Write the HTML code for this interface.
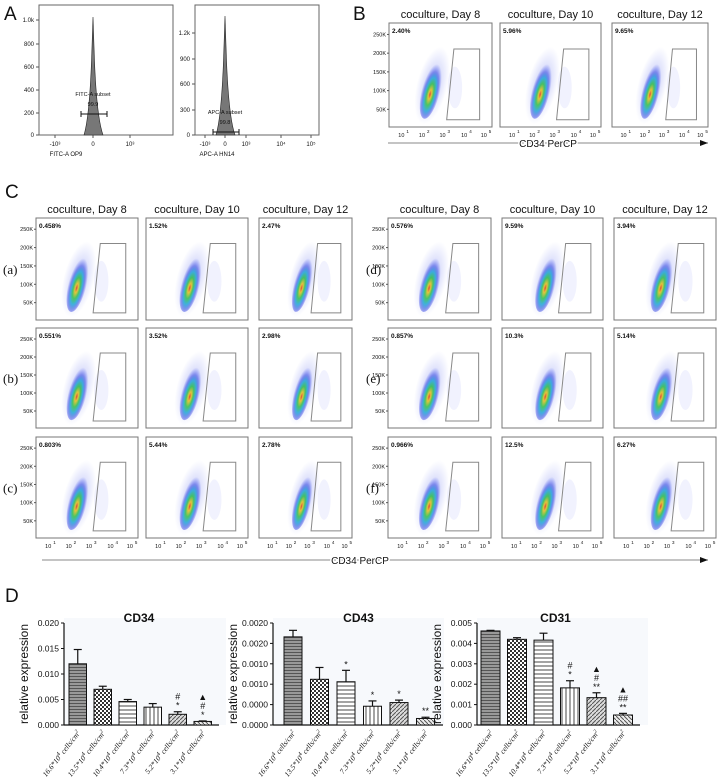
<!DOCTYPE html>
<html><head><meta charset="utf-8"><style>
html,body{margin:0;padding:0;background:#fff}
svg{display:block;font-family:"Liberation Sans",sans-serif}
</style></head><body>
<svg id="root" width="718" height="777" viewBox="0 0 718 777" xmlns="http://www.w3.org/2000/svg">
<defs>
<radialGradient id="blob" cx="50%" cy="60%" r="50%">
<stop offset="0" stop-color="#e0301e"/>
<stop offset="0.15" stop-color="#e8c21a"/>
<stop offset="0.35" stop-color="#2fbf4a"/>
<stop offset="0.55" stop-color="#22a6d8"/>
<stop offset="0.75" stop-color="#2a3ee0" stop-opacity="0.6"/>
<stop offset="1" stop-color="#3a4cf0" stop-opacity="0"/>
</radialGradient>
<radialGradient id="halo" cx="50%" cy="50%" r="50%">
<stop offset="0" stop-color="#3040e0" stop-opacity="0.35"/>
<stop offset="1" stop-color="#5060f0" stop-opacity="0"/>
</radialGradient>
<pattern id="p0" width="3" height="3" patternUnits="userSpaceOnUse"><rect width="3" height="3" fill="#999"/><path d="M0 1.5H3" stroke="#555" stroke-width="1"/></pattern>
<pattern id="p1" width="4" height="4" patternUnits="userSpaceOnUse"><rect width="4" height="4" fill="#fff"/><rect width="2" height="2" fill="#333"/><rect x="2" y="2" width="2" height="2" fill="#333"/></pattern>
<pattern id="p2" width="4" height="4" patternUnits="userSpaceOnUse"><rect width="4" height="4" fill="#fff"/><path d="M0 2H4" stroke="#666" stroke-width="1.2"/></pattern>
<pattern id="p3" width="4" height="4" patternUnits="userSpaceOnUse"><rect width="4" height="4" fill="#fff"/><path d="M2 0V4" stroke="#666" stroke-width="1.2"/></pattern>
<pattern id="p4" width="4" height="4" patternUnits="userSpaceOnUse"><rect width="4" height="4" fill="#ddd"/><path d="M0 4L4 0" stroke="#555" stroke-width="1"/></pattern>
<pattern id="p5" width="4" height="4" patternUnits="userSpaceOnUse"><rect width="4" height="4" fill="#eee"/><path d="M0 0L4 4" stroke="#555" stroke-width="1"/></pattern>
<marker id="arr" markerWidth="8" markerHeight="6" refX="8" refY="3" orient="auto"><path d="M0 0L8 3L0 6Z" fill="#111"/></marker>
</defs>
<g id="content"></g>
</svg>
<script>
// ---- Panel D data ----
const groups = ["16.6*10","13.5*10","10.4*10","7.3*10","5.2*10","3.1*10"];
const cd34Vals = [0.0120,0.0070,0.0046,0.0035,0.0021,0.0007];
const cd34Err  = [0.0148,0.0076,0.0050,0.0042,0.0026,0.0008];
const cd34Ticks = [0,0.005,0.010,0.015,0.020];
const cd34TickLabels = ["0.000","0.005","0.010","0.015","0.020"];
const cd34Ann = [[],[],[],[],["#","*"],["▲","#","*"]];
const cd43Vals = [0.00216,0.00112,0.00106,0.00046,0.00055,0.00016];
const cd43Err  = [0.00232,0.00141,0.00134,0.00059,0.00061,0.00019];
const cd43Ticks = [0,0.0005,0.0010,0.0015,0.0020,0.0025];
const cd43TickLabels = ["0.0000","0.0000","0.0010","0.0010","0.0020","0.0020"];
const cd43Ann = [[],[],["*"],["*"],["*"],["**"]];
const cd31Vals = [0.00461,0.00420,0.00416,0.00182,0.00134,0.00049];
const cd31Err  = [0.00464,0.00428,0.00450,0.00217,0.00158,0.00057];
const cd31Ticks = [0,0.001,0.002,0.003,0.004,0.005];
const cd31TickLabels = ["0.000","0.001","0.002","0.003","0.004","0.005"];
const cd31Ann = [[],[],[],["#","*"],["▲","#","**"],["▲","##","**"]];
// flow percentages
const bPercents = ["2.40%","5.96%","9.65%"];
const cPercents = [["0.458%","1.52%","2.47%"],["0.551%","3.52%","2.98%"],["0.803%","5.44%","2.78%"],
                   ["0.576%","9.59%","3.94%"],["0.857%","10.3%","5.14%"],["0.966%","12.5%","6.27%"]];

const NS="http://www.w3.org/2000/svg";
const root=document.getElementById('content');
function el(tag,attrs,parent,text){const e=document.createElementNS(NS,tag);for(const k in attrs)e.setAttribute(k,attrs[k]);if(text!==undefined)e.textContent=text;(parent||root).appendChild(e);return e;}
function txt(x,y,s,size,extra,parent){const a={x:x,y:y,'font-size':size,fill:'#111'};Object.assign(a,extra||{});return el('text',a,parent,s);}

// panel letters
[["A",4,20],["B",353,20],["C",5,198],["D",5,602]].forEach(p=>{
  const t=txt(p[1],p[2],p[0],19,{});
  
  
});

// ---- Panel A histograms ----
function hist(x0,x1,yTop,yBot,spikeX,spikeTop,ticks,xlabels,xlabel,gateLabel,gateVal,gateY,name){
  const g=el('g',{});
  
  
  el('rect',{x:x0,y:yTop,width:x1-x0,height:yBot-yTop,fill:'#fff',stroke:'#666','stroke-width':1},g);
  ticks.forEach(t=>{el('line',{x1:x0-3,x2:x0,y1:t[1],y2:t[1],stroke:'#555'},g);txt(x0-5,t[1]+2,t[0],6,{'text-anchor':'end'},g);});
  xlabels.forEach(t=>{el('line',{x1:t[1],x2:t[1],y1:yBot,y2:yBot+3,stroke:'#555'},g);txt(t[1],yBot+11,t[0],6,{'text-anchor':'middle'},g);});
  el('path',{d:`M${spikeX-9} ${yBot} Q${spikeX-3} ${yBot-20} ${spikeX-1} ${spikeTop+30} L${spikeX} ${spikeTop} L${spikeX+1} ${spikeTop+30} Q${spikeX+3} ${yBot-20} ${spikeX+10} ${yBot} Z`,fill:'#777',stroke:'#222','stroke-width':0.6},g);
  el('line',{x1:spikeX-12,x2:spikeX+14,y1:gateY,y2:gateY,stroke:'#111'},g);
  el('line',{x1:spikeX-12,x2:spikeX-12,y1:gateY-3,y2:gateY+3,stroke:'#111'},g);
  el('line',{x1:spikeX+14,x2:spikeX+14,y1:gateY-3,y2:gateY+3,stroke:'#111'},g);
  txt(spikeX,gateY-18,gateLabel,5.5,{'text-anchor':'middle'},g);
  txt(spikeX,gateY-8,gateVal,5.5,{'text-anchor':'middle'},g);
  txt((x0+x1)/2-40,yBot+21,xlabel,6,{'text-anchor':'middle'},g);
}
hist(39,173,5,135,93,17,[["1.0k",20],["800",44],["600",67],["400",90],["200",113],["0",135]],
  [["-10³",55],["0",93],["10³",130]],"FITC-A OP9","FITC-A subset","99.9",114,"histogram-op9");
hist(195,319,5,135,225,16,[["1.2k",33],["900",59],["600",84],["300",110],["0",135]],
  [["-10³",205],["0",225],["10³",246],["10⁴",281],["10⁵",311]],"APC-A HN14","APC-A subset","99.8",132,"histogram-hn14");

// ---- flow plot ----
function flow(x0,y0,w,h,pct,showY,showX,name,shift){
  const g=el('g',{});
  
  
  el('rect',{x:x0,y:y0,width:w,height:h,fill:'#fff',stroke:'#777','stroke-width':1},g);
  const cx=x0+w*(0.42+shift), cy=y0+h*0.6;
  el('ellipse',{cx:cx,cy:cy,rx:w*0.15,ry:h*0.38,fill:'url(#halo)',transform:`rotate(14 ${cx} ${cy})`},g);
  el('ellipse',{cx:cx,cy:cy+h*0.03,rx:w*0.09,ry:h*0.3,fill:'url(#blob)',transform:`rotate(14 ${cx} ${cy})`,opacity:0.85},g);
  el('ellipse',{cx:cx+w*0.22,cy:cy+h*0.02,rx:w*0.07,ry:h*0.2,fill:'#3a4cf0',opacity:0.07},g);
  const gx1=x0+w*0.63,gx2=x0+w*0.88,gbl=x0+w*0.56,gt=y0+h*0.25,gb=y0+h*0.93;
  el('path',{d:`M${gx1} ${gt}L${gx2} ${gt}L${gx2} ${gb}L${gbl} ${gb}Z`,fill:'none',stroke:'#888','stroke-width':1},g);
  txt(x0+3,y0+10,pct,6.5,{'font-weight':'bold'},g);
  if(showY){["250K","200K","150K","100K","50K"].forEach((l,i)=>{const yy=y0+h*(0.11+0.18*i);el('line',{x1:x0-2,x2:x0,y1:yy,y2:yy,stroke:'#555'},g);txt(x0-3,yy+2,l,5.5,{'text-anchor':'end'},g);});}
  if(showX){[0.12,0.32,0.52,0.73,0.92].forEach((f,i)=>{const xx=x0+w*f;txt(xx,y0+h+10,'10',5.5,{'text-anchor':'middle'},g);txt(xx+5,y0+h+6,String(i+1),4.5,{},g);});}
}
// Panel B
const bCols=[[389,103],[500,101],[612,96]];
bCols.forEach((c,i)=>{
  txt(c[0]+c[1]/2,18,"coculture, Day "+[8,10,12][i],11,{'text-anchor':'middle'});
  flow(c[0],23,c[1],104,bPercents[i],i==0,true,"flow-plot-b-day"+[8,10,12][i],0);
});
el('line',{x1:388,x2:708,y1:143,y2:143,stroke:'#888','marker-end':'url(#arr)'});
const bl=txt(548,147,"CD34 PerCP",10,{'text-anchor':'middle',stroke:'#fff','stroke-width':3,'paint-order':'stroke'});



// Panel C
const cCols=[[36,102],[146,102],[259,93],[388,103],[502,101],[614,102]];
const cRows=[[218,102],[328,100],[437,101]];
const rowNames=["(a)","(b)","(c)","(d)","(e)","(f)"];
cCols.forEach((c,ci)=>{
  txt(c[0]+c[1]/2,213,"coculture, Day "+[8,10,12][ci%3],11,{'text-anchor':'middle'});
  cRows.forEach((r,ri)=>{
    const grp=ci<3?ri:ri+3;
    flow(c[0],r[0],c[1],r[1],cPercents[grp][ci%3],ci%3==0,ri==2,"flow-plot-c-"+rowNames[grp].replace(/[()]/g,'')+"-day"+[8,10,12][ci%3],(ci%3)*0.03);
  });
});
cRows.forEach((r,ri)=>{
  txt(3,r[0]+r[1]/2+5,rowNames[ri],13,{'font-family':'"Liberation Serif",serif'});
  txt(366,r[0]+r[1]/2+5,rowNames[ri+3],13,{'font-family':'"Liberation Serif",serif'});
});
el('line',{x1:42,x2:708,y1:560,y2:560,stroke:'#888','marker-end':'url(#arr)'});
const cl=txt(360,564,"CD34 PerCP",10,{'text-anchor':'middle',stroke:'#fff','stroke-width':3,'paint-order':'stroke'});



// ---- Panel D bar charts ----
const Y0=725, Y1=623;
function barChart(name,title,axisX,start,pitch,bw,vals,errs,ticks,tickLabels,ann,maxV){
  const g=el('g',{});
  
  
  const y=v=>Y0-(v/maxV)*(Y0-Y1);
  el('rect',{x:axisX,y:Y1-5,width:pitch*6+12,height:Y0-Y1+5,fill:'#f7f9fc'},g);
  txt(start+pitch*3-5,622,title,12,{'font-weight':'bold','text-anchor':'middle'},g);
  el('line',{x1:axisX,x2:axisX,y1:Y1,y2:Y0,stroke:'#111','stroke-width':1.2},g);
  el('line',{x1:axisX,x2:start+pitch*6,y1:Y0,y2:Y0,stroke:'#111','stroke-width':1.2},g);
  ticks.forEach((t,i)=>{el('line',{x1:axisX-3,x2:axisX,y1:y(t),y2:y(t),stroke:'#111'},g);txt(axisX-5,y(t)+3,tickLabels[i],8.5,{'text-anchor':'end'},g);});
  txt(0,0,"relative expression",12,{'text-anchor':'middle',transform:`translate(${axisX-36} ${(Y0+Y1)/2}) rotate(-90)`},g);
  vals.forEach((v,i)=>{
    const bx=start+i*pitch, cx=bx+bw/2;
    const r=el('rect',{x:bx,y:y(v),width:bw,height:Y0-y(v),fill:'url(#p'+i+')',stroke:'#111','stroke-width':1},g);
    
    
    el('line',{x1:cx,x2:cx,y1:y(v),y2:y(errs[i]),stroke:'#111','stroke-width':1.2},g);
    el('line',{x1:cx-4,x2:cx+4,y1:y(errs[i]),y2:y(errs[i]),stroke:'#111','stroke-width':1.2},g);
    ann[i].slice().reverse().forEach((a,k)=>{txt(cx,y(errs[i])-3-k*9,a,9,{'text-anchor':'middle'},g);});
    const lt=el('text',{x:0,y:0,'font-size':7.5,'font-style':'italic','font-family':'"Liberation Serif",serif','text-anchor':'end',fill:'#111',transform:`translate(${cx+3} ${Y0+8}) rotate(-52)`},g);
    lt.textContent=groups[i];
    el('tspan',{dy:-3,'font-size':6},lt,'4');
    el('tspan',{dy:3},lt,' cells/cm');
    el('tspan',{dy:-3,'font-size':5},lt,'2');
  });
}
barChart("cd34-chart","CD34",64,69,25,17.5,cd34Vals,cd34Err,cd34Ticks,cd34TickLabels,cd34Ann,0.020);
barChart("cd43-chart","CD43",273,284,26.5,18,cd43Vals,cd43Err,cd43Ticks,cd43TickLabels,cd43Ann,0.0025);
barChart("cd31-chart","CD31",477,481,26.5,19,cd31Vals,cd31Err,cd31Ticks,cd31TickLabels,cd31Ann,0.005);
</script>
</body></html>
